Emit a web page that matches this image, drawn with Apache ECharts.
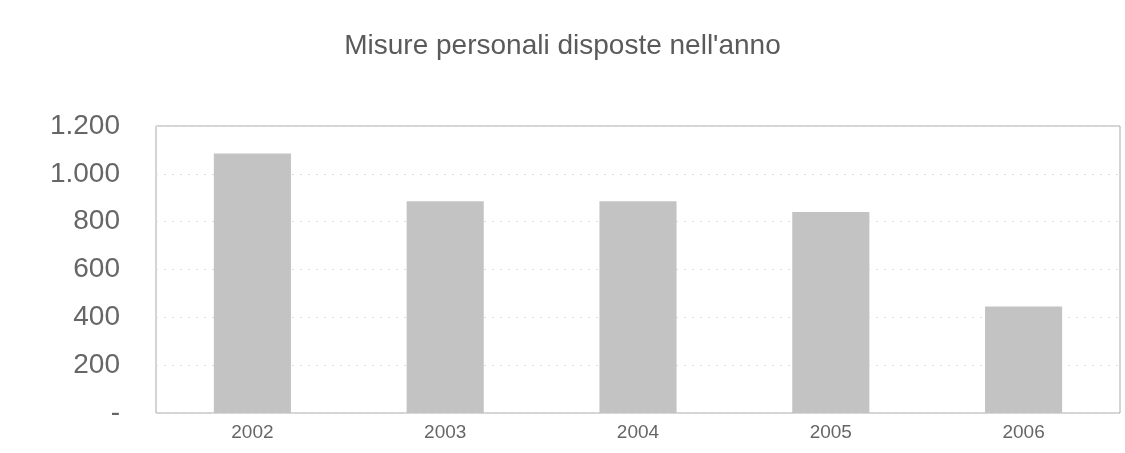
<!DOCTYPE html>
<html>
<head>
<meta charset="utf-8">
<script src="https://cdn.jsdelivr.net/npm/echarts@6/dist/echarts.min.js"></script>
<style>
  html, body { margin: 0; padding: 0; background: #fff; }
  #chart { width: 1125px; height: 453px; }
</style>
</head>
<body>
<div id="chart"></div>
<script>
const titleText = "Misure personali disposte nell'anno";
const years = ['2002', '2003', '2004', '2005', '2006'];
const misure = [1085, 885, 885, 840, 445];

const chart = echarts.init(document.getElementById('chart'));
chart.setOption({
    backgroundColor: '#fff',
    title: { text: titleText, left: 'center', top: 27, textStyle: { fontFamily: 'Liberation Sans', fontSize: 28, fontWeight: 'normal', color: '#5a5a5a' } },
    grid: { left: 156, right: 5, top: 126, bottom: 40, show: true, borderColor: '#aaa', borderWidth: 1 },
    xAxis: {
        type: 'category', data: years,
        axisLine: { show: false }, axisTick: { show: false },
        axisLabel: { margin: 10, fontFamily: 'Liberation Sans', fontSize: 19, color: '#666' }
    },
    yAxis: {
        type: 'value', min: 0, max: 1200, interval: 200,
        axisLine: { show: false }, axisTick: { show: false },
        splitLine: { lineStyle: { color: '#ddd', type: [2, 6] } },
        axisLabel: {
            margin: 36, fontFamily: 'Liberation Sans', fontSize: 28, color: '#666',
            formatter: v => v === 0 ? '-' : v.toString().replace(/\B(?=(\d{3})+(?!\d))/g, '.')
        }
    },
    series: [{ type: 'bar', data: misure, barWidth: '40%', itemStyle: { color: '#c3c3c3' } }]
});
</script>
</body>
</html>
